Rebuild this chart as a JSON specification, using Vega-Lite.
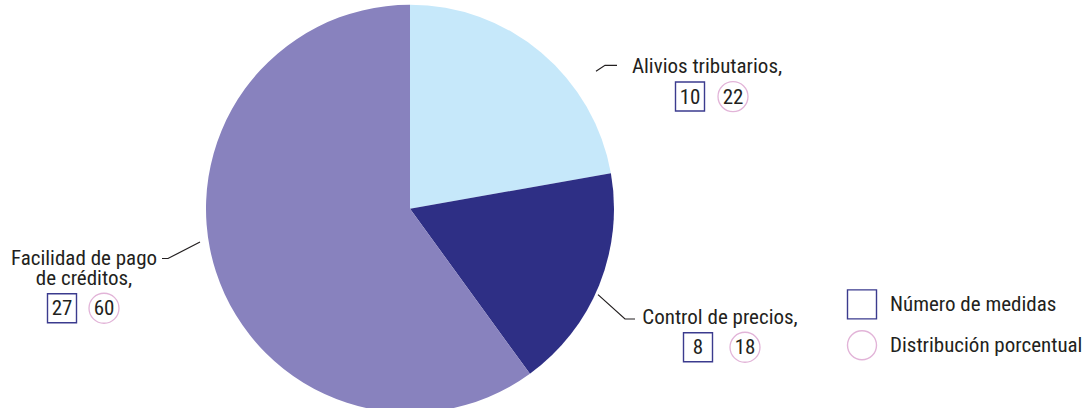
{
  "$schema": "https://vega.github.io/schema/vega-lite/v6.json",
  "width": 1083,
  "height": 408,
  "autosize": {"type": "fit", "contains": "padding"},
  "padding": 0,
  "background": "white",
  "config": {"view": {"stroke": null}, "text": {"font": "'Roboto Condensed', 'DejaVu Sans Condensed', Roboto, sans-serif", "fontSize": 21, "color": "#231f20"}},
  "datasets": {
    "pie": [
      {"categoria": "Alivios tributarios", "medidas": 10, "porcentaje": 22},
      {"categoria": "Control de precios", "medidas": 8, "porcentaje": 18},
      {"categoria": "Facilidad de pago de créditos", "medidas": 27, "porcentaje": 60}
    ],
    "etiquetas": [
      {"categoria": "Alivios tributarios", "texto": "Alivios tributarios,", "texto2": "", "tx": 707, "ty": 69, "bx": 690, "by": 99, "cx": 733, "cy": 99, "medidas": 10, "porcentaje": 22},
      {"categoria": "Control de precios", "texto": "Control de precios,", "texto2": "", "tx": 720, "ty": 326, "bx": 698, "by": 356, "cx": 745, "cy": 356, "medidas": 8, "porcentaje": 18},
      {"categoria": "Facilidad de pago de créditos", "texto": "Facilidad de pago", "texto2": "de créditos,", "tx": 84, "ty": 265, "bx": 62, "by": 316, "cx": 104, "cy": 316, "medidas": 27, "porcentaje": 60}
    ],
    "lineas": [
      {"grupo": "A", "orden": 1, "x": 596, "y": 73},
      {"grupo": "A", "orden": 2, "x": 605, "y": 67},
      {"grupo": "A", "orden": 3, "x": 617, "y": 67},
      {"grupo": "C", "orden": 1, "x": 598, "y": 302},
      {"grupo": "C", "orden": 2, "x": 625, "y": 327},
      {"grupo": "C", "orden": 3, "x": 635, "y": 327},
      {"grupo": "F", "orden": 1, "x": 200, "y": 248},
      {"grupo": "F", "orden": 2, "x": 168, "y": 265},
      {"grupo": "F", "orden": 3, "x": 162, "y": 265}
    ],
    "leyenda": [
      {"texto": "Número de medidas", "forma": "square", "ly": 312},
      {"texto": "Distribución porcentual", "forma": "circle", "ly": 354}
    ]
  },
  "layer": [
    {
      "data": {"name": "pie"},
      "mark": {"type": "arc", "radius": 204},
      "encoding": {
        "x": {"datum": 410, "type": "quantitative", "scale": {"domain": [0, 1083], "nice": false, "zero": false}, "axis": null},
        "y": {"datum": 214, "type": "quantitative", "scale": {"domain": [0, 408], "nice": false, "zero": false, "reverse": true}, "axis": null},
        "theta": {"field": "medidas", "type": "quantitative", "stack": true},
        "color": {"field": "categoria", "type": "nominal", "legend": null,
          "scale": {"domain": ["Alivios tributarios", "Control de precios", "Facilidad de pago de créditos"], "range": ["#c6e8fa", "#2e2f85", "#8882be"]}},
        "order": {"field": "categoria", "sort": "ascending"}
      }
    },
    {
      "data": {"name": "lineas"},
      "mark": {"type": "line", "color": "#231f20", "strokeWidth": 1.2},
      "encoding": {
        "x": {"field": "x", "type": "quantitative"},
        "y": {"field": "y", "type": "quantitative"},
        "detail": {"field": "grupo"},
        "order": {"field": "orden"}
      }
    },
    {
      "data": {"name": "etiquetas"},
      "mark": {"type": "text", "align": "center", "baseline": "middle"},
      "encoding": {
        "x": {"field": "tx", "type": "quantitative"},
        "y": {"field": "ty", "type": "quantitative"},
        "text": {"field": "texto"}
      }
    },
    {
      "data": {"name": "etiquetas"},
      "mark": {"type": "text", "align": "center", "baseline": "middle", "dy": 20},
      "encoding": {
        "x": {"field": "tx", "type": "quantitative"},
        "y": {"field": "ty", "type": "quantitative"},
        "text": {"field": "texto2"}
      }
    },
    {
      "data": {"name": "etiquetas"},
      "mark": {"type": "point", "shape": "square", "size": 841, "filled": false, "stroke": "#3b3b8e", "strokeWidth": 1.4, "opacity": 1},
      "encoding": {
        "x": {"field": "bx", "type": "quantitative"},
        "y": {"field": "by", "type": "quantitative"}
      }
    },
    {
      "data": {"name": "etiquetas"},
      "mark": {"type": "point", "shape": "circle", "size": 900, "filled": false, "stroke": "#e2b4d8", "strokeWidth": 1.3, "opacity": 1},
      "encoding": {
        "x": {"field": "cx", "type": "quantitative"},
        "y": {"field": "cy", "type": "quantitative"}
      }
    },
    {
      "data": {"name": "etiquetas"},
      "mark": {"type": "text", "align": "center", "baseline": "middle", "dy": 1},
      "encoding": {
        "x": {"field": "bx", "type": "quantitative"},
        "y": {"field": "by", "type": "quantitative"},
        "text": {"field": "medidas"}
      }
    },
    {
      "data": {"name": "etiquetas"},
      "mark": {"type": "text", "align": "center", "baseline": "middle", "dy": 1},
      "encoding": {
        "x": {"field": "cx", "type": "quantitative"},
        "y": {"field": "cy", "type": "quantitative"},
        "text": {"field": "porcentaje"}
      }
    },
    {
      "data": {"name": "leyenda"},
      "mark": {"type": "point", "size": 841, "filled": false, "strokeWidth": 1.4, "opacity": 1},
      "encoding": {
        "x": {"datum": 862, "type": "quantitative"},
        "y": {"field": "ly", "type": "quantitative"},
        "shape": {"field": "forma", "type": "nominal", "scale": {"domain": ["square", "circle"], "range": ["square", "circle"]}, "legend": null},
        "stroke": {"field": "forma", "type": "nominal", "scale": {"domain": ["square", "circle"], "range": ["#3b3b8e", "#e2b4d8"]}, "legend": null}
      }
    },
    {
      "data": {"name": "leyenda"},
      "mark": {"type": "text", "align": "left", "baseline": "middle", "dy": 1},
      "encoding": {
        "x": {"datum": 890, "type": "quantitative"},
        "y": {"field": "ly", "type": "quantitative"},
        "text": {"field": "texto"}
      }
    }
  ]
}
